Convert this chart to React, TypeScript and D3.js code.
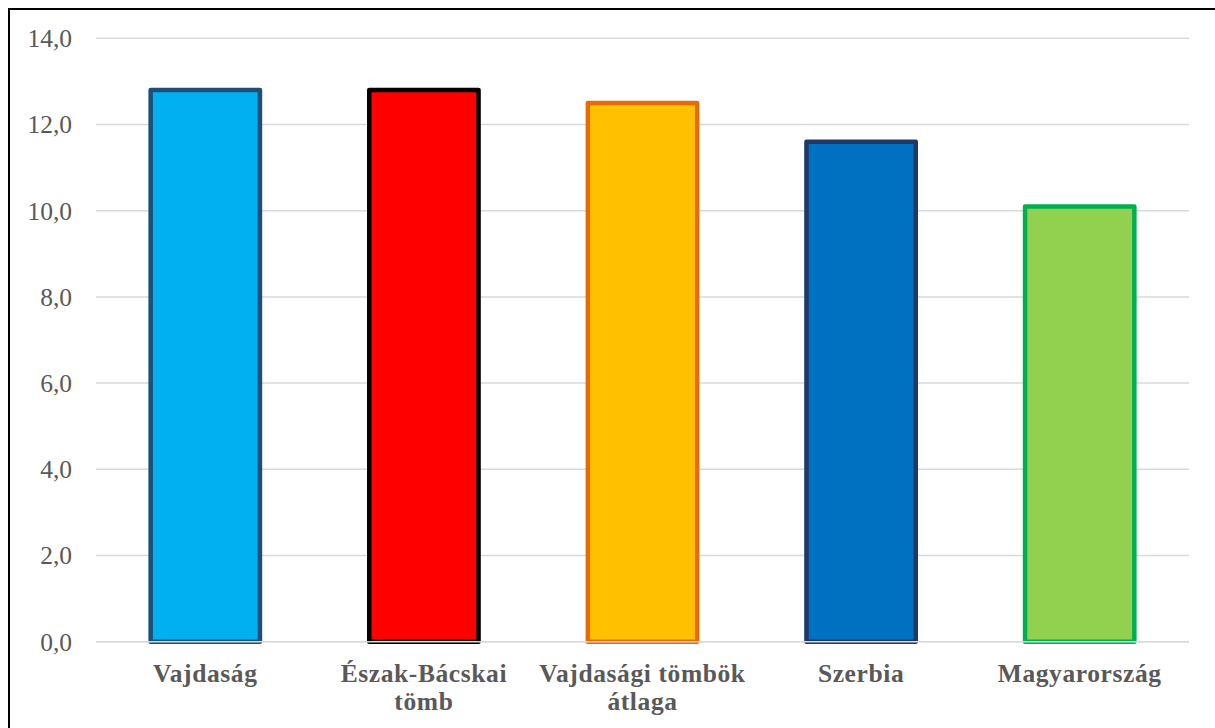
import React from "react";
import * as d3 from "d3";

const categories: string[][] = [
  ["Vajdaság"],
  ["Észak-Bácskai", "tömb"],
  ["Vajdasági tömbök", "átlaga"],
  ["Szerbia"],
  ["Magyarország"],
];
const values: number[] = [12.8, 12.8, 12.5, 11.6, 10.1];
const fills: string[] = ["#00B0F0", "#FF0000", "#FFC000", "#0070C0", "#92D050"];
const strokes: string[] = ["#1F4E79", "#000000", "#E36C09", "#203864", "#00B050"];
const yTicks: number[] = [0, 2, 4, 6, 8, 10, 12, 14];

const W = 1215;
const H = 728;
const plotLeft = 96;
const plotRight = 1189;
const plotTop = 38.3;
const plotBottom = 641.7;

export default function App() {
  const x = d3
    .scaleBand<number>()
    .domain(d3.range(values.length))
    .range([plotLeft, plotRight])
    .paddingInner(0.5)
    .paddingOuter(0.25);
  const y = d3.scaleLinear().domain([0, 14]).range([plotBottom, plotTop]);
  const fmt = (v: number) => v.toFixed(1).replace(".", ",");
  const font = "'Liberation Serif', 'Times New Roman', serif";

  return (
    <svg
      width={W}
      height={H}
      style={{ position: "absolute", left: 0, top: 0, background: "#fff" }}
    >
      <rect x={0} y={0} width={W} height={H} fill="#fff" />
      {yTicks.map((t) => (
        <g key={t}>
          <line
            x1={plotLeft}
            x2={plotRight}
            y1={y(t)}
            y2={y(t)}
            stroke="#D9D9D9"
            strokeWidth={1.5}
          />
          <text
            x={72}
            y={y(t)}
            dy="0.35em"
            textAnchor="end"
            fontFamily={font}
            fontSize={25.5}
            fill="#595959"
          >
            {fmt(t)}
          </text>
        </g>
      ))}
      {values.map((v, i) => (
        <rect
          key={i}
          x={x(i)!}
          y={y(v)}
          width={x.bandwidth()}
          height={y(0) - y(v)}
          fill={fills[i]}
          stroke={strokes[i]}
          strokeWidth={4.5}
          strokeLinejoin="round"
        />
      ))}
      <line
        x1={plotLeft}
        x2={plotRight}
        y1={y(0)}
        y2={y(0)}
        stroke="#D9D9D9"
        strokeWidth={1.5}
      />
      {categories.map((lines, i) => (
        <text
          key={i}
          x={x(i)! + x.bandwidth() / 2}
          y={682}
          textAnchor="middle"
          fontFamily={font}
          fontWeight="bold"
          fontSize={25.5}
          fill="#595959"
          letterSpacing={0.6}
        >
          {lines.map((l, j) => (
            <tspan key={j} x={x(i)! + x.bandwidth() / 2} dy={j === 0 ? 0 : 28}>
              {l}
            </tspan>
          ))}
        </text>
      ))}
      <rect
        x={9}
        y={9}
        width={W + 20}
        height={H + 20}
        fill="none"
        stroke="#000"
        strokeWidth={2}
      />
    </svg>
  );
}
